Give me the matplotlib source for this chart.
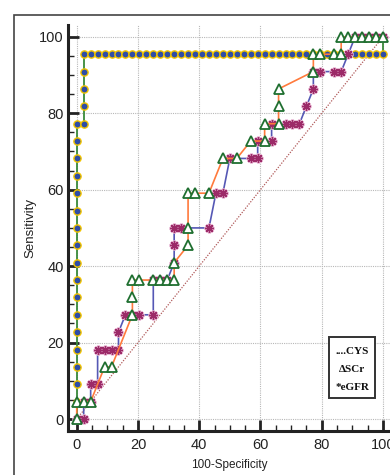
import matplotlib
matplotlib.use("Agg")
import matplotlib.pyplot as plt
from matplotlib.ticker import MultipleLocator
from matplotlib.patches import Rectangle
from matplotlib import font_manager

# ---------------- data ----------------
cys_x = [0, 0, 0, 0, 0, 0, 0, 0, 0, 0, 0, 0, 0, 0, 0, 0, 0, 0,
         2.27, 2.27, 2.27, 2.27, 2.27,
         4.55, 6.82, 9.09, 11.36, 13.64, 15.91, 18.18, 20.45, 22.73, 25.00,
         27.27, 29.55, 31.82, 34.09, 36.36, 38.64, 40.91, 43.18, 45.45, 47.73,
         50.00, 52.27, 54.55, 56.82, 59.09, 61.36, 63.64, 65.91, 68.18, 70.45,
         72.73, 75.00, 77.27, 79.55, 81.82, 84.09, 86.36, 88.64, 90.91, 93.18,
         95.45, 97.73, 100.0,
         100.0]
cys_y = [0, 4.55, 9.09, 13.64, 18.18, 22.73, 27.27, 31.82, 36.36, 40.91, 45.45,
         50.00, 54.55, 59.09, 63.64, 68.18, 72.73, 77.27,
         77.27, 81.82, 86.36, 90.91, 95.45,
         95.45, 95.45, 95.45, 95.45, 95.45, 95.45, 95.45, 95.45, 95.45, 95.45,
         95.45, 95.45, 95.45, 95.45, 95.45, 95.45, 95.45, 95.45, 95.45, 95.45,
         95.45, 95.45, 95.45, 95.45, 95.45, 95.45, 95.45, 95.45, 95.45, 95.45,
         95.45, 95.45, 95.45, 95.45, 95.45, 95.45, 95.45, 95.45, 95.45, 95.45,
         95.45, 95.45, 95.45,
         100.0]

scr_x = [0, 0, 2.27, 4.55, 9.09, 11.36, 18.18, 18.18, 18.18, 20.45, 25.00, 27.27,
         29.55, 31.82, 31.82, 36.36, 36.36, 36.36, 38.64, 43.18, 47.73, 52.27,
         56.82, 61.36, 61.36, 65.91, 65.91, 65.91, 77.27, 77.27, 79.55, 84.09,
         86.36, 86.36, 88.64, 90.91, 93.18, 95.45, 97.73, 100.0]
scr_y = [0, 4.55, 4.55, 4.55, 13.64, 13.64, 27.27, 31.82, 36.36, 36.36, 36.36, 36.36,
         36.36, 36.36, 40.91, 45.45, 50.00, 59.09, 59.09, 59.09, 68.18, 68.18,
         72.73, 72.73, 77.27, 77.27, 81.82, 86.36, 90.91, 95.45, 95.45, 95.45,
         95.45, 100.0, 100.0, 100.0, 100.0, 100.0, 100.0, 100.0]

egfr_x = [0, 2.27, 2.27, 4.55, 4.55, 6.82, 6.82, 9.09, 11.36, 13.64, 13.64, 15.91,
          18.18, 20.45, 25.00, 25.00, 27.27, 29.55, 31.82, 31.82, 31.82, 34.09,
          43.18, 45.45, 47.73, 50.00, 56.82, 59.09, 59.09, 63.64, 63.64, 68.18,
          70.45, 72.73, 75.00, 77.27, 77.27, 79.55, 84.09, 86.36, 88.64, 90.91,
          93.18, 95.45, 97.73, 100.0]
egfr_y = [0, 0, 4.55, 4.55, 9.09, 9.09, 18.18, 18.18, 18.18, 18.18, 22.73, 27.27,
          27.27, 27.27, 27.27, 36.36, 36.36, 36.36, 40.91, 45.45, 50.00, 50.00,
          50.00, 59.09, 59.09, 68.18, 68.18, 68.18, 72.73, 72.73, 77.27, 77.27,
          77.27, 77.27, 81.82, 86.36, 90.91, 90.91, 90.91, 90.91, 95.45, 100.0,
          100.0, 100.0, 100.0, 100.0]

diag = [0, 100]
major_ticks = [0, 20, 40, 60, 80, 100]
legend_lines = ["....CYS", "\u0394SCr", "*eGFR"]

# ---------------- figure ----------------
W, H = 390, 475
fig = plt.figure(figsize=(W / 100, H / 100), dpi=100)
fig.patch.set_facecolor("white")

names = {f.name for f in font_manager.fontManager.ttflist}
tick_family = "Liberation Sans Narrow" if "Liberation Sans Narrow" in names else "Liberation Sans"

ax = fig.add_axes([68 / W, 44 / H, (W - 68) / W, (431 - 25) / H])
ax.set_xlim(-2.85, 102.3)
ax.set_ylim(-3.14, 103.1)

for s in ["top", "right"]:
    ax.spines[s].set_visible(False)
for s in ["left", "bottom"]:
    ax.spines[s].set_linewidth(2.2)
    ax.spines[s].set_color("#222222")

ax.set_xticks(major_ticks)
ax.set_yticks(major_ticks)
ax.xaxis.set_minor_locator(MultipleLocator(5))
ax.yaxis.set_minor_locator(MultipleLocator(5))
ax.tick_params(which="major", direction="in", length=8, width=2, color="#222222")
ax.tick_params(which="minor", direction="in", length=4.5, width=1, color="#222222")
ax.tick_params(axis="y", which="major", pad=3)
ax.tick_params(axis="x", which="major", pad=5)
for lab in ax.get_xticklabels() + ax.get_yticklabels():
    lab.set_family(tick_family)
    lab.set_fontsize(10.5)
    lab.set_color("#222222")

ax.grid(True, which="major", color="#b8b8b8", linestyle=(0, (1, 1)), linewidth=0.8)
ax.set_axisbelow(True)

# reference diagonal
ax.plot(diag, diag, color="#b05a5a", linestyle=(0, (1, 1.2)), linewidth=0.9, zorder=2)

# CYS
ax.plot(cys_x, cys_y, color="#3a8a3a", linewidth=1.3, marker="o", markersize=5.2,
        markerfacecolor="#2f4da6", markeredgecolor="#f2c400", markeredgewidth=1.0,
        zorder=3, clip_on=False)
# eGFR
ax.plot(egfr_x, egfr_y, color="#5558b5", linewidth=1.2, zorder=4, clip_on=False)
ax.plot(egfr_x, egfr_y, linestyle="none", marker=(8, 2, 0), markersize=7,
        markeredgecolor="#e8b8d4", markeredgewidth=2.2, zorder=4.1, clip_on=False)
ax.plot(egfr_x, egfr_y, linestyle="none", marker=(8, 2, 0), markersize=6.5,
        markeredgecolor="#9c2a68", markeredgewidth=1.0, zorder=4.2, clip_on=False)
# SCr
ax.plot(scr_x, scr_y, color="#ff7a3c", linewidth=1.2, marker="^", markersize=7,
        markerfacecolor="white", markeredgecolor="#1f6f30", markeredgewidth=1.3,
        zorder=5, clip_on=False)

# axis labels
fig.text(30 / W, 1 - 228 / H, "Sensitivity", rotation=90, ha="center", va="center",
         family="Liberation Sans", fontsize=9.5, color="#222222")
fig.text(229 / W, 1 - 465 / H, "100-Specificity", ha="center", va="center",
         family="Liberation Sans", fontsize=8.5, color="#222222")

# outer frame
fig.add_artist(Rectangle((14 / W, -0.1), 2.0, (1 - 15 / H) + 0.1, transform=fig.transFigure,
                         fill=False, edgecolor="#444444", linewidth=1.2, clip_on=False))

# legend box
fig.add_artist(Rectangle((329 / W, 1 - 398 / H), 46 / W, 61 / H, transform=fig.transFigure,
                         facecolor="white", edgecolor="#333333", linewidth=1.4, zorder=6))
for i, t in enumerate(legend_lines):
    fig.text(352 / W, 1 - (351 + 18 * i) / H, t, ha="center", va="center",
             family=["Liberation Serif", "DejaVu Serif"], fontweight="bold",
             fontsize=8, color="#111111", zorder=7)

fig.savefig("out.png", dpi=100, facecolor="white")
